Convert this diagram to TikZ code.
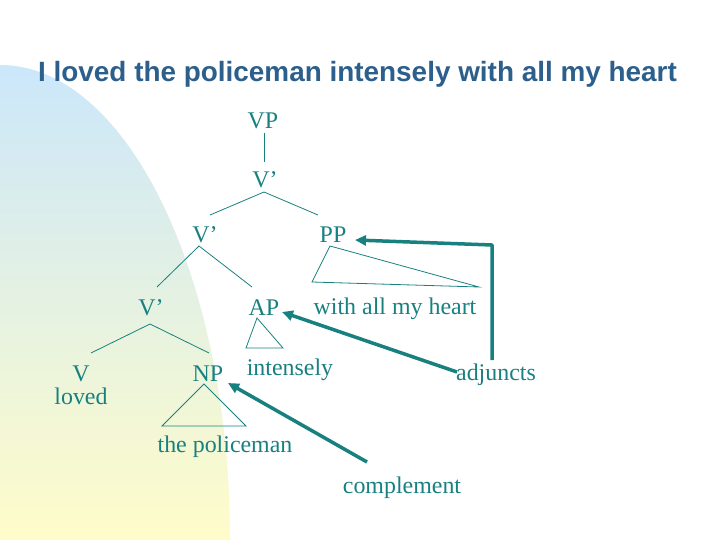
\documentclass[tikz,border=0pt]{standalone}
\usepackage{fontspec}
\setmainfont{Liberation Serif}
\newfontfamily\titlefont{Liberation Sans}
\usetikzlibrary{arrows.meta}
\definecolor{teal}{RGB}{25,128,128}
\definecolor{titleblue}{RGB}{45,95,140}
\definecolor{bgblue}{RGB}{203,231,250}
\definecolor{bgyellow}{RGB}{255,252,202}
\tikzset{
  lbl/.style={text=teal, inner sep=0pt, anchor=base, font=\fontsize{24}{28}\selectfont},
  branch/.style={draw=teal, line width=0.8bp},
  pointer/.style={draw=teal, line width=3.5bp, -{Triangle[length=11bp,width=10bp]}},
}
\begin{document}
\begin{tikzpicture}[x=1bp,y=-1bp]
\useasboundingbox (0,0) rectangle (720,540);
\fill[white] (0,0) rectangle (720,540);
\shade[top color=bgblue, bottom color=bgyellow] (0,540) -- (0,65) arc[start angle=-90, end angle=0, x radius=230, y radius=475] -- cycle;
% title
\node[text=titleblue, inner sep=0pt, anchor=base, font=\titlefont\bfseries\fontsize{28}{32}\selectfont] (title) at (357.5,82) {I loved the policeman intensely with all my heart};
% tree labels
\node[lbl] (vp) at (263,129) {VP};
\node[lbl] (v1) at (265,188) {V’};
\node[lbl] (v2) at (205,243) {V’};
\node[lbl] (pp) at (333,243) {PP};
\node[lbl] (v3) at (151,315) {V’};
\node[lbl] (ap) at (264,315) {AP};
\node[lbl] (heart) at (395,314) {with all my heart};
\node[lbl] (v) at (81,381) {V};
\node[lbl] (loved) at (81,404) {loved};
\node[lbl] (np) at (208,381) {NP};
\node[lbl] (intensely) at (290,375) {intensely};
\node[lbl] (adjuncts) at (496,380) {adjuncts};
\node[lbl] (police) at (225,452) {the policeman};
\node[lbl] (complement) at (402,493) {complement};
% branch coordinates
\coordinate (vpb) at (264,133);
\coordinate (v1t) at (264,162);
\coordinate (v1b) at (264,192);
\coordinate (v2t) at (210,215);
\coordinate (ppt) at (318,215);
\coordinate (v2b) at (199,246);
\coordinate (v3t) at (157,287);
\coordinate (apt) at (252,287);
\coordinate (v3b) at (150,324);
\coordinate (vt) at (91,353);
\coordinate (npt) at (209,353);
% branches
\draw[branch] (vpb) -- (v1t);
\draw[branch] (v2t) -- (v1b) -- (ppt);
\draw[branch] (v3t) -- (v2b) -- (apt);
\draw[branch] (vt) -- (v3b) -- (npt);
% triangles
\draw[branch] (330,246) -- (312,282) -- (479,287) -- cycle;
\draw[branch] (257,318) -- (246,348) -- (283,348) -- cycle;
\draw[branch] (204,384) -- (162,426) -- (246,426) -- cycle;
% arrows
\coordinate (adjbot) at (492,360);
\coordinate (adjtop) at (492,245);
\coordinate (pptip) at (355,240);
\coordinate (adjleft) at (457,372);
\coordinate (aptip) at (282,312);
\coordinate (comptop) at (367,462);
\coordinate (nptip) at (228,383);
\draw[pointer, line join=round] (adjbot) -- (adjtop) -- (pptip);
\draw[pointer] (adjleft) -- (aptip);
\draw[pointer] (comptop) -- (nptip);
\end{tikzpicture}
\end{document}
